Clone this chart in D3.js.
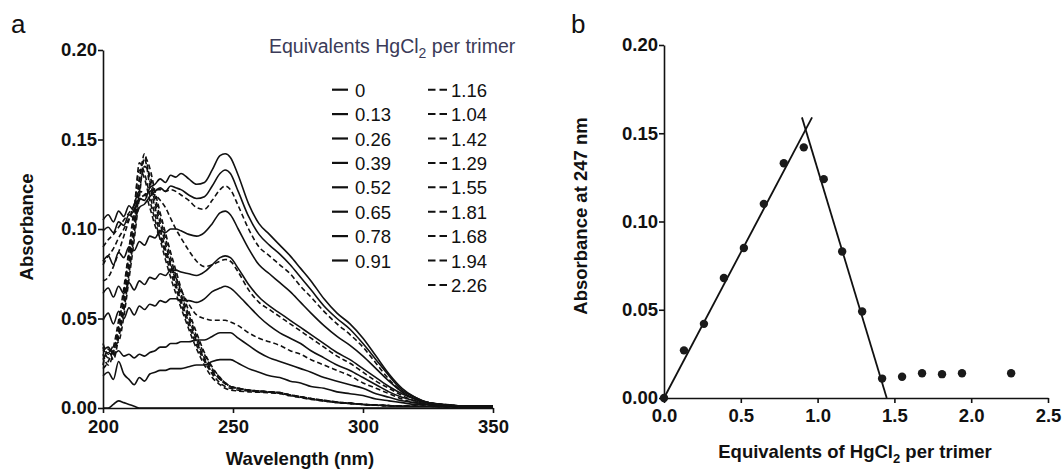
<!DOCTYPE html>
<html>
<head>
<meta charset="utf-8">
<script src="https://cdn.jsdelivr.net/npm/d3@7"></script>
<style>
  html, body { margin: 0; padding: 0; background: #fff; }
  svg { display: block; }
</style>
</head>
<body>
<svg id="fig" width="1063" height="469"></svg>
<script>
// ---------- Panel a: UV spectra during HgCl2 titration ----------
const wavelengths = [200,202,204,206,208,210,212,214,216,218,220,222,224,226,228,230,
  233,236,239,242,245,247,249,252,256,260,264,268,272,276,280,285,290,295,300,305,310,
  315,320,325,330,340,350];

// Absorbance per titration point (equivalents HgCl2 per trimer)
const abs_0    = [0,0,.002,.004,.003,.002,.001,0,0,0,0,0,0,0,0,0,0,0,0,0,0,0,0,0,0,0,0,0,0,0,0,0,0,0,0,0,0,0,0,0,0,0,0];
const abs_013  = [.018,.020,.016,.026,.019,.016,.013,.017,.015,.019,.020,.021,.021,.022,.022,.022,
  .023,.024,.024,.026,.027,.027,.027,.025,.022,.020,.018,.017,.015,.014,.012,
  .011,.009,.008,.007,.005,.004,.003,.002,.002,.001,.001,.001];
const abs_026  = [.032,.034,.030,.032,.029,.030,.028,.030,.029,.031,.032,.034,.034,.036,.036,.037,
  .037,.038,.038,.040,.042,.042,.042,.039,.035,.031,.028,.026,.024,.022,.020,
  .017,.015,.013,.011,.008,.006,.004,.003,.002,.001,.001,.001];
const abs_039  = [.049,.053,.047,.054,.050,.056,.052,.057,.055,.058,.057,.060,.059,.061,.061,.060,
  .060,.059,.061,.065,.067,.068,.067,.063,.057,.051,.046,.042,.039,.036,.032,
  .028,.024,.021,.017,.013,.009,.006,.004,.002,.002,.001,.001];
const abs_052  = [.064,.067,.062,.068,.064,.070,.066,.071,.069,.073,.072,.075,.074,.077,.077,.076,
  .075,.074,.076,.080,.084,.085,.084,.078,.069,.062,.057,.053,.049,.045,.041,
  .036,.031,.027,.022,.017,.012,.008,.005,.003,.002,.001,.001];
const abs_065  = [.082,.085,.080,.087,.084,.090,.088,.093,.091,.096,.095,.099,.098,.100,.100,.099,
  .097,.096,.098,.103,.109,.110,.108,.100,.089,.080,.075,.070,.065,.059,.053,
  .046,.040,.035,.029,.022,.015,.009,.005,.003,.002,.001,.001];
const abs_078  = [.099,.101,.098,.104,.102,.108,.106,.112,.114,.118,.121,.123,.121,.124,.123,.122,
  .119,.117,.118,.124,.131,.133,.131,.121,.107,.097,.091,.086,.080,.073,.066,
  .057,.050,.044,.036,.027,.018,.010,.006,.003,.002,.001,.001];
const abs_091  = [.105,.108,.104,.110,.107,.113,.110,.117,.116,.123,.125,.128,.126,.130,.129,.131,
  .128,.125,.126,.133,.141,.142,.140,.130,.114,.103,.097,.091,.085,.078,.071,
  .061,.053,.047,.039,.029,.019,.011,.006,.003,.002,.001,.001];
const abs_104  = [.090,.094,.097,.101,.105,.109,.113,.117,.119,.121,.122,.122,.121,.122,.121,.119,
  .116,.112,.111,.116,.122,.124,.122,.113,.100,.090,.085,.080,.075,.068,.062,
  .054,.047,.041,.034,.025,.016,.009,.005,.003,.002,.001,.001];
const abs_116  = [.080,.085,.089,.095,.100,.106,.111,.116,.119,.120,.119,.116,.112,.106,.100,.095,
  .088,.082,.079,.080,.082,.083,.082,.076,.066,.059,.055,.051,.047,.043,.039,
  .034,.029,.025,.020,.015,.011,.007,.004,.003,.002,.001,.001];
const abs_129  = [.071,.073,.079,.087,.096,.105,.114,.121,.120,.112,.102,.095,.088,.080,.073,.066,
  .058,.052,.050,.049,.049,.049,.048,.046,.042,.039,.037,.035,.032,.030,.027,
  .024,.021,.018,.014,.011,.008,.005,.003,.002,.002,.001,.001];
const abs_142  = [.022,.026,.034,.049,.067,.089,.112,.133,.128,.116,.105,.094,.083,.073,.064,.056,
  .044,.033,.024,.017,.013,.011,.010,.0095,.009,.0088,.0085,.008,.0068,.0058,.0048,
  .0038,.003,.0025,.002,.0015,.0012,.001,.001,.001,.0008,.0005,.0003];
const abs_155  = [.030,.024,.031,.046,.064,.086,.108,.137,.131,.119,.108,.097,.086,.076,.067,.058,
  .046,.035,.026,.019,.014,.012,.011,.010,.0095,.009,.0088,.0083,.007,.006,.005,
  .004,.003,.0025,.002,.0016,.0013,.001,.001,.001,.0008,.0005,.0003];
const abs_168  = [.027,.031,.029,.043,.060,.082,.104,.129,.139,.124,.112,.100,.089,.079,.069,.060,
  .048,.037,.027,.020,.016,.014,.012,.011,.010,.0095,.009,.0085,.0072,.0062,.0052,
  .0042,.0032,.0026,.002,.0016,.0013,.0011,.001,.001,.0008,.0005,.0003];
const abs_181  = [.034,.028,.033,.041,.057,.079,.100,.126,.142,.127,.115,.103,.092,.081,.071,.062,
  .050,.038,.028,.021,.016,.0135,.012,.011,.010,.0095,.009,.0085,.0072,.0062,.0052,
  .0042,.0032,.0026,.002,.0016,.0013,.0011,.001,.001,.0008,.0005,.0003];
const abs_194  = [.024,.033,.027,.039,.054,.075,.097,.121,.135,.130,.118,.106,.095,.084,.074,.064,
  .052,.040,.030,.022,.017,.014,.012,.011,.010,.0095,.009,.0086,.0073,.0063,.0053,
  .0043,.0033,.0027,.002,.0016,.0013,.0011,.001,.001,.0008,.0005,.0003];
const abs_226  = [.036,.030,.035,.037,.051,.072,.094,.118,.140,.134,.121,.109,.098,.087,.077,.067,
  .054,.042,.031,.023,.017,.014,.012,.011,.010,.0095,.009,.0086,.0073,.0063,.0053,
  .0043,.0033,.0027,.002,.0016,.0013,.0011,.001,.001,.0008,.0005,.0003];

const solidSpectra  = [abs_0, abs_013, abs_026, abs_039, abs_052, abs_065, abs_078, abs_091];
const dashedSpectra = [abs_104, abs_116, abs_129, abs_142, abs_155, abs_168, abs_181, abs_194, abs_226];

const legendSolid  = ["0","0.13","0.26","0.39","0.52","0.65","0.78","0.91"];
const legendDashed = ["1.16","1.04","1.42","1.29","1.55","1.81","1.68","1.94","2.26"];

const xTicksA = [200, 250, 300, 350];
const yTicks  = [0, 0.05, 0.10, 0.15, 0.20];

// ---------- Panel b: absorbance at 247 nm vs equivalents ----------
const equivalents = [0,0.13,0.26,0.39,0.52,0.65,0.78,0.91,1.04,1.16,1.29,1.42,1.55,1.68,1.81,1.94,2.26];
const abs247      = [0,.027,.042,.068,.085,.110,.133,.142,.124,.083,.049,.011,.012,.014,.0135,.014,.014];
const riseFitX = [0, 0.964];
const riseFitY = [0, 0.159];
const fallFitX = [0.898, 1.45];
const fallFitY = [0.159, 0];
const xTicksB = [0, 0.5, 1.0, 1.5, 2.0, 2.5];

// ---------- drawing ----------
const FONT = '"Liberation Sans", Arial, Helvetica, sans-serif';
const INK = "#111";
const svg = d3.select("#fig");

function styleAxis(g) {
  g.select(".domain").attr("stroke", INK).attr("stroke-width", 1.6);
  g.selectAll(".tick line").attr("stroke", INK).attr("stroke-width", 1.6);
  g.selectAll(".tick text")
    .attr("font-family", FONT).attr("font-weight", "bold")
    .attr("font-size", 18.5).attr("fill", INK);
}

// Panel a
const xA = d3.scaleLinear().domain([200, 350]).range([103, 493]);
const yA = d3.scaleLinear().domain([0, 0.2]).range([408, 50]);

const spectrumLine = d3.line()
  .x((d, i) => xA(wavelengths[i]))
  .y(d => yA(d))
  .curve(d3.curveMonotoneX);

const gA = svg.append("g");
gA.selectAll("path.dashed").data(dashedSpectra).join("path")
  .attr("class", "dashed")
  .attr("d", spectrumLine)
  .attr("fill", "none").attr("stroke", INK).attr("stroke-width", 1.6)
  .attr("stroke-dasharray", "5,3");
gA.selectAll("path.solid").data(solidSpectra).join("path")
  .attr("class", "solid")
  .attr("d", spectrumLine)
  .attr("fill", "none").attr("stroke", INK).attr("stroke-width", 1.6);

gA.append("g").attr("transform", "translate(0,408)")
  .call(d3.axisBottom(xA).tickValues(xTicksA).tickSize(5).tickSizeOuter(0).tickPadding(7))
  .call(styleAxis);
gA.append("g").attr("transform", "translate(103,0)")
  .call(d3.axisLeft(yA).tickValues(yTicks).tickFormat(d3.format(".2f")).tickSize(5).tickSizeOuter(0).tickPadding(1))
  .call(styleAxis);

gA.append("text").attr("transform", "translate(33,227) rotate(-90)")
  .attr("text-anchor", "middle").attr("font-family", FONT).attr("font-weight", "bold")
  .attr("font-size", 18.5).attr("fill", INK).text("Absorbance");
gA.append("text").attr("x", 300).attr("y", 465)
  .attr("text-anchor", "middle").attr("font-family", FONT).attr("font-weight", "bold")
  .attr("font-size", 18.5).attr("fill", INK).text("Wavelength (nm)");

svg.append("text").attr("x", 11).attr("y", 33)
  .attr("font-family", FONT).attr("font-size", 26).attr("fill", INK).text("a");

// legend
const legTitle = gA.append("text").attr("x", 269).attr("y", 53)
  .attr("font-family", FONT).attr("font-size", 19.5).attr("fill", "#3b3b58");
legTitle.append("tspan").text("Equivalents HgCl");
legTitle.append("tspan").attr("font-size", 14).attr("dy", 5).text("2");
legTitle.append("tspan").attr("dy", -5).text(" per trimer");

const rowY = i => 96.7 + i * 24.4;
const legS = gA.append("g").selectAll("g").data(legendSolid).join("g");
legS.append("line").attr("x1", 332).attr("x2", 348)
  .attr("y1", (d, i) => rowY(i) - 7).attr("y2", (d, i) => rowY(i) - 7)
  .attr("stroke", INK).attr("stroke-width", 2.2);
legS.append("text").attr("x", 355).attr("y", (d, i) => rowY(i))
  .attr("font-family", FONT).attr("font-size", 18.5).attr("fill", INK).text(d => d);

const legD = gA.append("g").selectAll("g").data(legendDashed).join("g");
legD.append("line").attr("x1", 428).attr("x2", 447)
  .attr("y1", (d, i) => rowY(i) - 7).attr("y2", (d, i) => rowY(i) - 7)
  .attr("stroke", INK).attr("stroke-width", 2).attr("stroke-dasharray", "7.5,4");
legD.append("text").attr("x", 451).attr("y", (d, i) => rowY(i))
  .attr("font-family", FONT).attr("font-size", 18.5).attr("fill", INK).text(d => d);

// Panel b
const xB = d3.scaleLinear().domain([0, 2.5]).range([664, 1048]);
const yB = d3.scaleLinear().domain([0, 0.2]).range([398, 45]);
const gB = svg.append("g");

const fitLine = d3.line().x(d => xB(d[0])).y(d => yB(d[1]));
gB.append("path").attr("d", fitLine(d3.zip(riseFitX, riseFitY)))
  .attr("fill", "none").attr("stroke", INK).attr("stroke-width", 1.8);
gB.append("path").attr("d", fitLine(d3.zip(fallFitX, fallFitY)))
  .attr("fill", "none").attr("stroke", INK).attr("stroke-width", 1.8);

gB.append("g").attr("transform", "translate(0,398)")
  .call(d3.axisBottom(xB).tickValues(xTicksB).tickFormat(d3.format(".1f")).tickSize(5).tickSizeOuter(0).tickPadding(6))
  .call(styleAxis);
gB.append("g").attr("transform", "translate(664,0)")
  .call(d3.axisLeft(yB).tickValues(yTicks).tickFormat(d3.format(".2f")).tickSize(5).tickSizeOuter(0).tickPadding(1))
  .call(styleAxis);

gB.selectAll("circle").data(d3.zip(equivalents, abs247)).join("circle")
  .attr("cx", d => xB(d[0])).attr("cy", d => yB(d[1])).attr("r", 4.2)
  .attr("fill", "#1a1a1a");

gB.append("text").attr("transform", "translate(587,216) rotate(-90)")
  .attr("text-anchor", "middle").attr("font-family", FONT).attr("font-weight", "bold")
  .attr("font-size", 18.5).attr("fill", INK).text("Absorbance at 247 nm");
const xtB = gB.append("text").attr("x", 855).attr("y", 458)
  .attr("text-anchor", "middle").attr("font-family", FONT).attr("font-weight", "bold")
  .attr("font-size", 18.5).attr("fill", INK);
xtB.append("tspan").text("Equivalents of HgCl");
xtB.append("tspan").attr("font-size", 13).attr("dy", 5).text("2");
xtB.append("tspan").attr("dy", -5).text(" per trimer");

svg.append("text").attr("x", 571).attr("y", 33)
  .attr("font-family", FONT).attr("font-size", 26).attr("fill", INK).text("b");
</script>
</body>
</html>
